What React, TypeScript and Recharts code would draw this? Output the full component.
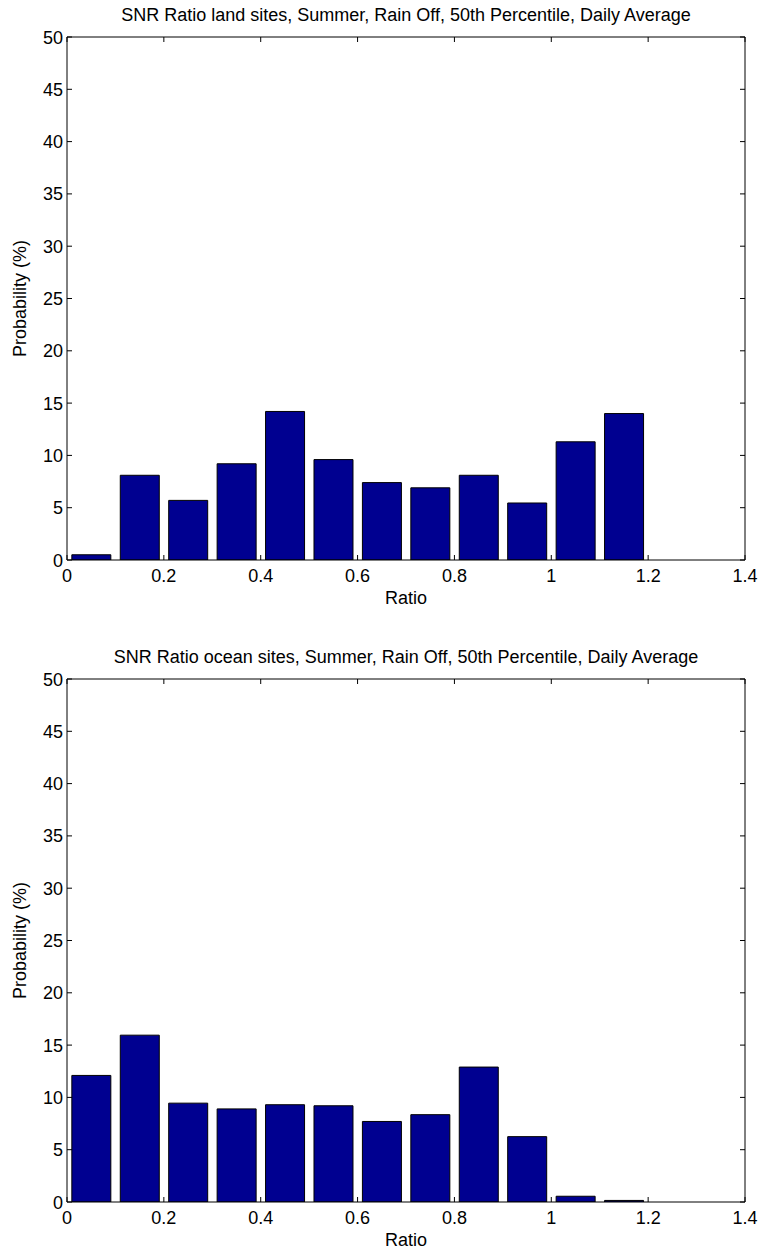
import { Bar, BarChart, XAxis, YAxis } from "recharts";

// histogram bin centres (Ratio) and probabilities (%)
const binCenters = [0.05, 0.15, 0.25, 0.35, 0.45, 0.55, 0.65, 0.75, 0.85, 0.95, 1.05, 1.15, 1.25, 1.35];
const landPct = [0.5, 8.1, 5.7, 9.2, 14.2, 9.6, 7.4, 6.9, 8.1, 5.45, 11.3, 14.0, 0, 0];
const oceanPct = [12.1, 15.95, 9.45, 8.9, 9.3, 9.2, 7.7, 8.35, 12.9, 6.25, 0.55, 0.15, 0, 0];

const xTicks = [0, 0.2, 0.4, 0.6, 0.8, 1, 1.2, 1.4];
const yTicks = [0, 5, 10, 15, 20, 25, 30, 35, 40, 45, 50];

const FONT = '"Liberation Sans", Arial, Helvetica, sans-serif';
const FS = 18;
const TICK = 5;

function BottomTick({ x, y, payload }: any) {
  return (
    <g>
      <line x1={x} y1={y} x2={x} y2={y - TICK} stroke="#000" />
      <text x={x} y={y + 22} textAnchor="middle" fontSize={FS} fontFamily={FONT} fill="#000">
        {String(payload.value)}
      </text>
    </g>
  );
}

function TopTick({ x, y }: any) {
  return <line x1={x} y1={y} x2={x} y2={y + TICK} stroke="#000" />;
}

function LeftTick({ x, y, payload }: any) {
  return (
    <g>
      <line x1={x} y1={y} x2={x + TICK} y2={y} stroke="#000" />
      <text x={x - 4} y={y + 6.5} textAnchor="end" fontSize={FS} fontFamily={FONT} fill="#000">
        {String(payload.value)}
      </text>
    </g>
  );
}

function RightTick({ x, y }: any) {
  return <line x1={x} y1={y} x2={x - TICK} y2={y} stroke="#000" />;
}

function Histogram({ title, values, top }: { title: string; values: number[]; top: number }) {
  const data = binCenters.map((x, i) => ({ x, v: values[i] }));
  return (
    <div style={{ position: "absolute", left: 0, top, width: 761, height: 610 }}>
      <div
        style={{
          position: "absolute",
          left: 67,
          width: 678,
          top: 5,
          textAlign: "center",
          fontFamily: FONT,
          fontSize: FS,
          lineHeight: "20px",
          color: "#000",
          whiteSpace: "nowrap",
        }}
      >
        {title}
      </div>
      <BarChart
        width={761}
        height={610}
        data={data}
        margin={{ top: 32, right: 0, left: 0, bottom: 0 }}
        barCategoryGap="10%"
      >
        <XAxis
          dataKey="x"
          type="number"
          domain={[0, 1.4]}
          ticks={xTicks}
          interval={0}
          allowDataOverflow
          height={50}
          tickSize={0}
          tickMargin={0}
          tick={<BottomTick />}
          axisLine={{ stroke: "#000" }}
          label={{ value: "Ratio", position: "insideBottom", offset: 6, fontSize: FS, fontFamily: FONT, fill: "#000" }}
        />
        <XAxis
          xAxisId="top"
          dataKey="x"
          orientation="top"
          type="number"
          domain={[0, 1.4]}
          ticks={xTicks}
          interval={0}
          allowDataOverflow
          height={5}
          tickSize={0}
          tickMargin={0}
          tick={<TopTick />}
          axisLine={{ stroke: "#000" }}
        />
        <YAxis
          type="number"
          domain={[0, 50]}
          ticks={yTicks}
          interval={0}
          allowDataOverflow
          width={67}
          tickSize={0}
          tickMargin={0}
          tick={<LeftTick />}
          axisLine={{ stroke: "#000" }}
          label={{
            value: "Probability (%)",
            angle: -90,
            position: "insideLeft",
            offset: 20,
            style: { textAnchor: "middle" },
            fontSize: FS,
            fontFamily: FONT,
            fill: "#000",
          }}
        />
        <YAxis
          yAxisId="right"
          dataKey="v"
          orientation="right"
          type="number"
          domain={[0, 50]}
          ticks={yTicks}
          interval={0}
          allowDataOverflow
          width={16}
          tickSize={0}
          tickMargin={0}
          tick={<RightTick />}
          axisLine={{ stroke: "#000" }}
        />
        <Bar dataKey="v" fill="#000090" stroke="#000" strokeWidth={1} isAnimationActive={false} />
      </BarChart>
    </div>
  );
}

export default function App() {
  return (
    <div style={{ position: "absolute", left: 0, top: 0, width: 761, height: 1249, background: "#fff" }}>
      <Histogram
        title="SNR Ratio land sites, Summer, Rain Off, 50th Percentile, Daily Average"
        values={landPct}
        top={0}
      />
      <Histogram
        title="SNR Ratio ocean sites, Summer, Rain Off, 50th Percentile, Daily Average"
        values={oceanPct}
        top={642}
      />
    </div>
  );
}
